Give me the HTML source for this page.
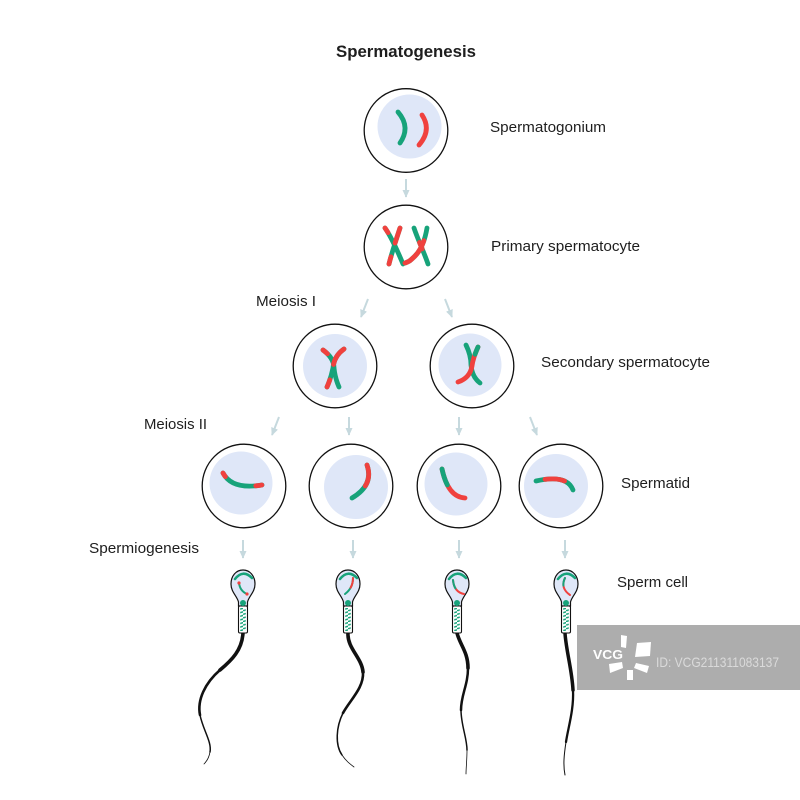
<!DOCTYPE html>
<html>
<head>
<meta charset="utf-8">
<style>
html,body{margin:0;padding:0;background:#fff;}
svg{display:block;}
text{font-family:"Liberation Sans",Arial,sans-serif;fill:#1e1e1e;}
</style>
</head>
<body>
<svg width="800" height="800" viewBox="0 0 800 800" xmlns="http://www.w3.org/2000/svg">
<defs>
  <marker id="ah" viewBox="0 0 10 10" refX="9" refY="5" markerWidth="8" markerHeight="8" orient="auto" markerUnits="userSpaceOnUse">
    <path d="M0,0.5 L10,5 L0,9.5 Z" fill="#c6d9de"/>
  </marker>
  <pattern id="stripe" width="9" height="3.6" patternUnits="userSpaceOnUse">
    <path d="M-1 3.4 L10 0.4" stroke="#17a37a" stroke-width="1.5"/>
  </pattern>
</defs>
<rect width="800" height="800" fill="#fff"/>

<!-- Title & labels -->
<text x="336" y="57" font-size="17" font-weight="bold" textLength="140" lengthAdjust="spacingAndGlyphs">Spermatogenesis</text>
<text x="490" y="132" font-size="15" textLength="116" lengthAdjust="spacingAndGlyphs">Spermatogonium</text>
<text x="491" y="251" font-size="15" textLength="149" lengthAdjust="spacingAndGlyphs">Primary spermatocyte</text>
<text x="256" y="306" font-size="15" textLength="60" lengthAdjust="spacingAndGlyphs">Meiosis I</text>
<text x="541" y="367" font-size="15" textLength="169" lengthAdjust="spacingAndGlyphs">Secondary spermatocyte</text>
<text x="144" y="429" font-size="15" textLength="63" lengthAdjust="spacingAndGlyphs">Meiosis II</text>
<text x="621" y="488" font-size="15" textLength="69" lengthAdjust="spacingAndGlyphs">Spermatid</text>
<text x="89" y="553" font-size="15" textLength="110" lengthAdjust="spacingAndGlyphs">Spermiogenesis</text>
<text x="617" y="587" font-size="15" textLength="71" lengthAdjust="spacingAndGlyphs">Sperm cell</text>

<!-- Arrows -->
<g stroke="#c6d9de" stroke-width="2" fill="none" marker-end="url(#ah)">
  <line x1="406" y1="179" x2="406" y2="197"/>
  <line x1="368" y1="299" x2="361" y2="317"/>
  <line x1="445" y1="299" x2="452" y2="317"/>
  <line x1="279" y1="417" x2="272" y2="435"/>
  <line x1="349" y1="417" x2="349" y2="435"/>
  <line x1="459" y1="417" x2="459" y2="435"/>
  <line x1="530" y1="417" x2="537" y2="435"/>
  <line x1="243" y1="540" x2="243" y2="558"/>
  <line x1="353" y1="540" x2="353" y2="558"/>
  <line x1="459" y1="540" x2="459" y2="558"/>
  <line x1="565" y1="540" x2="565" y2="558"/>
</g>

<!-- Cells -->
<g stroke="#111" stroke-width="1.3">
  <circle cx="406" cy="130.5" r="41.8" fill="#fff"/>
  <circle cx="406" cy="247" r="41.8" fill="#fff"/>
  <circle cx="335" cy="366" r="41.8" fill="#fff"/>
  <circle cx="472" cy="366" r="41.8" fill="#fff"/>
  <circle cx="244" cy="486" r="41.8" fill="#fff"/>
  <circle cx="351" cy="486" r="41.8" fill="#fff"/>
  <circle cx="459" cy="486" r="41.8" fill="#fff"/>
  <circle cx="561" cy="486" r="41.8" fill="#fff"/>
</g>
<g fill="#dfe7f8">
  <circle cx="409.5" cy="126.5" r="32"/>
  <circle cx="335" cy="366" r="32"/>
  <circle cx="470" cy="365" r="31.5"/>
  <circle cx="241" cy="483" r="31.5"/>
  <circle cx="356" cy="487" r="32"/>
  <circle cx="456" cy="484" r="31.5"/>
  <circle cx="556" cy="486" r="32"/>
</g>

<!-- Chromosomes -->
<g fill="none" stroke-linecap="round" stroke-width="4.8">
  <!-- spermatogonium -->
  <path d="M 398 112 Q 411 127 400 143" stroke="#17a37a"/>
  <path d="M 422 115 Q 432 130 419 145" stroke="#f0413e"/>

  <!-- primary spermatocyte left X -->
  <path d="M 385 228 C 392 238 398 252 403 264" stroke="#17a37a" pathLength="100"/>
  <path d="M 385 228 C 392 238 398 252 403 264" stroke="#f0413e" pathLength="100" stroke-dasharray="14 200"/>
  <path d="M 400 228 C 396 240 392 252 389 264" stroke="#17a37a" pathLength="100"/>
  <path d="M 400 228 C 396 240 392 252 389 264" stroke="#f0413e" pathLength="100" stroke-dasharray="42 200"/>
  <path d="M 400 228 C 396 240 392 252 389 264" stroke="#f0413e" pathLength="100" stroke-dasharray="20 200" stroke-dashoffset="-80"/>
  <!-- primary spermatocyte right X -->
  <path d="M 414 228 C 418 240 424 252 428 264" stroke="#17a37a" pathLength="100"/>
  <path d="M 414 228 C 418 240 424 252 428 264" stroke="#f0413e" pathLength="100" stroke-dasharray="18 200" stroke-dashoffset="-40"/>
  <path d="M 427 228 C 425 240 421 250 415 256 S 408 262 405 263" stroke="#17a37a" pathLength="100"/>
  <path d="M 427 228 C 425 240 421 250 415 256 S 408 262 405 263" stroke="#f0413e" pathLength="100" stroke-dasharray="70 200" stroke-dashoffset="-30"/>

  <!-- secondary left -->
  <path d="M 323 350 Q 334 358 334 368 Q 335 378 339 387" stroke="#17a37a" pathLength="100"/>
  <path d="M 323 350 Q 334 358 334 368 Q 335 378 339 387" stroke="#f0413e" pathLength="100" stroke-dasharray="14 200"/>
  <path d="M 344 349 Q 334 356 333 368 Q 331 378 327 387" stroke="#17a37a" pathLength="100"/>
  <path d="M 344 349 Q 334 356 333 368 Q 331 378 327 387" stroke="#f0413e" pathLength="100" stroke-dasharray="45 200"/>
  <path d="M 344 349 Q 334 356 333 368 Q 331 378 327 387" stroke="#f0413e" pathLength="100" stroke-dasharray="18 200" stroke-dashoffset="-82"/>

  <!-- secondary right -->
  <path d="M 466 345 Q 471 355 471 365 Q 472 377 480 383" stroke="#17a37a"/>
  <path d="M 478 347 Q 473 358 472 366 Q 470 378 458 382" stroke="#f0413e" pathLength="100"/>
  <path d="M 478 347 Q 473 358 472 366 Q 470 378 458 382" stroke="#17a37a" pathLength="100" stroke-dasharray="18 200"/>

  <!-- spermatids -->
  <path d="M 223 473 Q 232 490 262 485" stroke="#17a37a" pathLength="100"/>
  <path d="M 223 473 Q 232 490 262 485" stroke="#f0413e" pathLength="100" stroke-dasharray="10 200"/>
  <path d="M 223 473 Q 232 490 262 485" stroke="#f0413e" pathLength="100" stroke-dasharray="14 200" stroke-dashoffset="-86"/>

  <path d="M 367 465 Q 374 485 352 498" stroke="#17a37a" pathLength="100"/>
  <path d="M 367 465 Q 374 485 352 498" stroke="#f0413e" pathLength="100" stroke-dasharray="55 200"/>

  <path d="M 442 469 Q 448 497 465 498" stroke="#f0413e" pathLength="100"/>
  <path d="M 442 469 Q 448 497 465 498" stroke="#17a37a" pathLength="100" stroke-dasharray="42 200"/>

  <path d="M 536 481 Q 567 474 573 490" stroke="#17a37a" pathLength="100"/>
  <path d="M 536 481 Q 567 474 573 490" stroke="#f0413e" pathLength="100" stroke-dasharray="48 200" stroke-dashoffset="-22"/>
</g>

<!-- Sperm tails -->
<g fill="none" stroke="#111" stroke-linecap="round">
  <path d="M 243 633 C 242 650 232 660 220 670" stroke-width="3.6"/>
  <path d="M 220 670 C 205 683 197 700 200 715" stroke-width="2.6"/>
  <path d="M 200 715 C 203 730 212 742 210 752" stroke-width="1.5"/>
  <path d="M 210 752 C 209 758 206 762 204 764" stroke-width="0.8"/>

  <path d="M 348 633 C 347 648 362 658 363 672" stroke-width="3.6"/>
  <path d="M 363 672 C 364 688 350 700 343 713" stroke-width="2.6"/>
  <path d="M 343 713 C 336 727 335 745 342 755" stroke-width="1.5"/>
  <path d="M 342 755 C 346 761 350 764 354 767" stroke-width="0.8"/>

  <path d="M 457 633 C 460 645 468 652 468 668" stroke-width="3.6"/>
  <path d="M 468 668 C 468 685 461 695 461 710" stroke-width="2.5"/>
  <path d="M 461 710 C 461 725 467 738 467 750" stroke-width="1.5"/>
  <path d="M 467 750 C 467 760 466 768 466 774" stroke-width="0.8"/>

  <path d="M 565 633 C 566 650 572 670 573 690" stroke-width="3.5"/>
  <path d="M 573 690 C 574 710 568 728 566 742" stroke-width="2.3"/>
  <path d="M 566 742 C 564 755 563 765 565 775" stroke-width="1"/>
</g>

<!-- Sperm heads -->
<g id="s1" transform="translate(243,568)">
  <path d="M 0 2 C 7 2 12 8 12 16 C 12 24 6 28 4.5 34 L 4.5 38 L -4.5 38 L -4.5 34 C -6 28 -12 24 -12 16 C -12 8 -7 2 0 2 Z" fill="#dfe7f8" stroke="#111" stroke-width="1.2"/>
  <rect x="-4.5" y="38" width="9" height="27" rx="1.5" fill="#fff" stroke="#111" stroke-width="1.1"/>
  <rect x="-2.8" y="40" width="5.6" height="23" fill="url(#stripe)"/>
  <circle cx="0" cy="35" r="3" fill="#17a37a"/>
  <path d="M -8 11 Q 0 1 9 10" stroke="#17a37a" stroke-width="2.6" fill="none" stroke-linecap="round"/>
  <path d="M -4 15 Q -3 23 4 26" stroke="#17a37a" stroke-width="2" fill="none" stroke-linecap="round"/>
  <circle cx="-4" cy="15" r="1.6" fill="#f0413e"/>
  <circle cx="4" cy="26" r="1.6" fill="#f0413e"/>
</g>
<g transform="translate(348,568)">
  <path d="M 0 2 C 7 2 12 8 12 16 C 12 24 6 28 4.5 34 L 4.5 38 L -4.5 38 L -4.5 34 C -6 28 -12 24 -12 16 C -12 8 -7 2 0 2 Z" fill="#dfe7f8" stroke="#111" stroke-width="1.2"/>
  <rect x="-4.5" y="38" width="9" height="27" rx="1.5" fill="#fff" stroke="#111" stroke-width="1.1"/>
  <rect x="-2.8" y="40" width="5.6" height="23" fill="url(#stripe)"/>
  <circle cx="0" cy="35" r="3" fill="#17a37a"/>
  <path d="M -8 11 Q 0 1 9 10" stroke="#17a37a" stroke-width="2.6" fill="none" stroke-linecap="round"/>
  <path d="M 5 10 Q 5 20 -3 26" stroke="#17a37a" stroke-width="2" fill="none" stroke-linecap="round" pathLength="100"/>
  <path d="M 5 10 Q 5 20 -3 26" stroke="#f0413e" stroke-width="2" fill="none" stroke-linecap="round" pathLength="100" stroke-dasharray="55 200"/>
</g>
<g transform="translate(457,568)">
  <path d="M 0 2 C 7 2 12 8 12 16 C 12 24 6 28 4.5 34 L 4.5 38 L -4.5 38 L -4.5 34 C -6 28 -12 24 -12 16 C -12 8 -7 2 0 2 Z" fill="#dfe7f8" stroke="#111" stroke-width="1.2"/>
  <rect x="-4.5" y="38" width="9" height="27" rx="1.5" fill="#fff" stroke="#111" stroke-width="1.1"/>
  <rect x="-2.8" y="40" width="5.6" height="23" fill="url(#stripe)"/>
  <circle cx="0" cy="35" r="3" fill="#17a37a"/>
  <path d="M -8 11 Q 0 1 9 10" stroke="#17a37a" stroke-width="2.6" fill="none" stroke-linecap="round"/>
  <path d="M -4 12 Q -3 24 7 26" stroke="#f0413e" stroke-width="2" fill="none" stroke-linecap="round" pathLength="100"/>
  <path d="M -4 12 Q -3 24 7 26" stroke="#17a37a" stroke-width="2" fill="none" stroke-linecap="round" pathLength="100" stroke-dasharray="45 200"/>
</g>
<g transform="translate(566,568)">
  <path d="M 0 2 C 7 2 12 8 12 16 C 12 24 6 28 4.5 34 L 4.5 38 L -4.5 38 L -4.5 34 C -6 28 -12 24 -12 16 C -12 8 -7 2 0 2 Z" fill="#dfe7f8" stroke="#111" stroke-width="1.2"/>
  <rect x="-4.5" y="38" width="9" height="27" rx="1.5" fill="#fff" stroke="#111" stroke-width="1.1"/>
  <rect x="-2.8" y="40" width="5.6" height="23" fill="url(#stripe)"/>
  <circle cx="0" cy="35" r="3" fill="#17a37a"/>
  <path d="M -8 11 Q 0 1 9 10" stroke="#17a37a" stroke-width="2.6" fill="none" stroke-linecap="round"/>
  <path d="M -1 10 Q -6 20 4 27" stroke="#f0413e" stroke-width="2" fill="none" stroke-linecap="round" pathLength="100"/>
  <path d="M -1 10 Q -6 20 4 27" stroke="#17a37a" stroke-width="2" fill="none" stroke-linecap="round" pathLength="100" stroke-dasharray="40 200"/>
</g>

<!-- Watermark -->
<rect x="577" y="625" width="223" height="65" fill="#adadad"/>
<text x="593" y="659" font-size="13" font-weight="bold" style="fill:#ffffff" textLength="30" lengthAdjust="spacingAndGlyphs">VCG</text>
<g fill="#fff">
  <polygon points="621,635 627,636 626,648 621,647"/>
  <polygon points="637,643 651,642 650,656 635,657"/>
  <polygon points="636,663 649,666 647,673 634,668"/>
  <polygon points="627,670 633,670 633,680 627,680"/>
  <polygon points="609,664 622,662 623,668 610,673"/>
</g>
<text x="656" y="667" font-size="14" style="fill:#dadada" textLength="123" lengthAdjust="spacingAndGlyphs">ID: VCG211311083137</text>
</svg>
</body>
</html>
